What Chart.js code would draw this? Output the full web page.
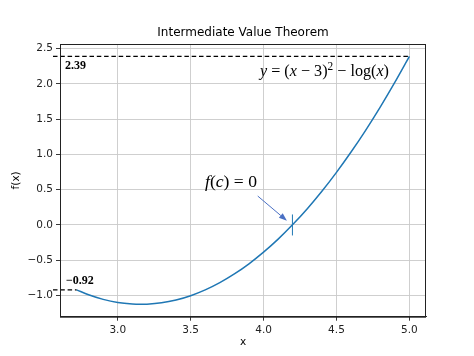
<!DOCTYPE html>
<html>
<head>
<meta charset="utf-8">
<script src="https://cdn.jsdelivr.net/npm/chart.js@4"></script>
<style>
html,body{margin:0;padding:0;background:#fff;}
canvas{display:block;}
</style>
</head>
<body>
<canvas id="c" width="474" height="356"></canvas>
<script>
// ---- data ----
const xVals = [2.718, 2.8, 2.9, 3.0, 3.1, 3.15, 3.2, 3.3, 3.4, 3.5, 3.6, 3.7, 3.8, 3.9, 4.0, 4.1, 4.2, 4.3, 4.4, 4.5, 4.6, 4.7, 4.8, 4.9, 5.0];
const fVals = [-0.92, -0.99, -1.055, -1.099, -1.121, -1.125, -1.123, -1.104, -1.064, -1.003, -0.921, -0.818, -0.695, -0.551, -0.386, -0.201, 0.005, 0.231, 0.478, 0.746, 1.034, 1.342, 1.671, 2.021, 2.39];
const xTicks = [3.0, 3.5, 4.0, 4.5, 5.0];
const yTicks = [-1.0, -0.5, 0.0, 0.5, 1.0, 1.5, 2.0, 2.5];
const levelHigh = 2.39;
const levelLow = -0.92;
const levelHighLabel = "2.39";
const levelLowLabel = "\u22120.92";
const xStart = 2.718, xEnd = 5.0;
const dashFrom = 2.556;
const rootX = 4.198, rootY = 0;
const arrowTail = [3.96, 0.41];
const arrowHead = [4.16, 0.06];
const titleText = "Intermediate Value Theorem";
const xLabel = "x", yLabel = "f(x)";

const blue = '#1f77b4';
const fmt = v => (v < 0 ? '\u2212' : '') + Math.abs(v).toFixed(1);

function fontFor(s, size, fam) {
  if (s === 'i') return `italic ${size}px ${fam}`;
  if (s === 'sup') return `${(size * 0.7).toFixed(1)}px ${fam}`;
  return `${size}px ${fam}`;
}
function drawRich(ctx, parts, x, y, targetW, size, fam) {
  let w0 = 0;
  for (const [t, s] of parts) { ctx.font = fontFor(s, size, fam); w0 += ctx.measureText(t).width; }
  ctx.save();
  ctx.translate(x, y);
  ctx.scale(targetW / w0, 1);
  let cx = 0;
  ctx.textBaseline = 'alphabetic';
  ctx.textAlign = 'left';
  for (const [t, s] of parts) {
    ctx.font = fontFor(s, size, fam);
    const dy = s === 'sup' ? -size * 0.38 : 0;
    ctx.fillText(t, cx, dy);
    cx += ctx.measureText(t).width;
  }
  ctx.restore();
}

const annot = {
  id: 'annot',
  afterDraw(chart) {
    const ctx = chart.ctx, xs = chart.scales.x, ys = chart.scales.y, a = chart.chartArea;
    ctx.save();
    // frame
    ctx.strokeStyle = '#222';
    ctx.lineWidth = 1;
    ctx.strokeRect(a.left + 0.5, a.top + 0.5, a.right - a.left - 1, a.bottom - a.top);
    // arrow
    const tx = xs.getPixelForValue(arrowTail[0]), ty = ys.getPixelForValue(arrowTail[1]);
    const hx = xs.getPixelForValue(arrowHead[0]), hy = ys.getPixelForValue(arrowHead[1]);
    const ang = Math.atan2(hy - ty, hx - tx);
    const hl = 8, hw = 3;
    const bx = hx - hl * Math.cos(ang), by = hy - hl * Math.sin(ang);
    ctx.strokeStyle = '#4a70c4';
    ctx.fillStyle = '#4a70c4';
    ctx.lineWidth = 1;
    ctx.beginPath(); ctx.moveTo(tx, ty); ctx.lineTo(bx, by); ctx.stroke();
    ctx.beginPath();
    ctx.moveTo(hx, hy);
    ctx.lineTo(bx + hw * Math.sin(ang), by - hw * Math.cos(ang));
    ctx.lineTo(bx - hw * Math.sin(ang), by + hw * Math.cos(ang));
    ctx.closePath(); ctx.fill();
    // texts
    ctx.fillStyle = '#000';
    const serif = '"Liberation Serif"';
    drawRich(ctx, [['y', 'i'], [' = (', 'n'], ['x', 'i'], [' \u2212 3)', 'n'], ['2', 'sup'], [' \u2212 log(', 'n'], ['x', 'i'], [')', 'n']],
      260, 76, 129, 17, serif);
    drawRich(ctx, [['f', 'i'], ['(', 'n'], ['c', 'i'], [') = 0', 'n']], 205, 187, 52, 17, serif);
    ctx.font = `bold 12px ${serif}`;
    ctx.textAlign = 'left';
    ctx.textBaseline = 'middle';
    ctx.fillText(levelHighLabel, 65, 66);
    ctx.fillText(levelLowLabel, 66, 281);
    // title and axis labels
    ctx.font = '12px "DejaVu Sans"';
    ctx.textAlign = 'center';
    ctx.textBaseline = 'middle';
    ctx.fillText(titleText, (a.left + a.right) / 2, 33);
    ctx.font = '10.5px "DejaVu Sans"';
    ctx.fillText(xLabel, (a.left + a.right) / 2, 342);
    ctx.translate(16, (a.top + a.bottom) / 2);
    ctx.rotate(-Math.PI / 2);
    ctx.fillText(yLabel, 0, 0);
    ctx.restore();
  }
};

new Chart(document.getElementById('c'), {
  type: 'scatter',
  data: {
    datasets: [
      {
        data: xVals.map((x, i) => ({x, y: fVals[i]})),
        showLine: true, borderColor: blue, borderWidth: 1.5, pointRadius: 0,
        cubicInterpolationMode: 'monotone', order: 2
      },
      {
        data: [{x: dashFrom, y: levelHigh}, {x: xEnd, y: levelHigh}],
        showLine: true, borderColor: '#000', borderWidth: 1.3, borderDash: [4.5, 2.8],
        pointRadius: 0, clip: false, order: 1
      },
      {
        data: [{x: dashFrom, y: levelLow}, {x: xStart, y: levelLow}],
        showLine: true, borderColor: '#000', borderWidth: 1.3, borderDash: [4.5, 2.8],
        pointRadius: 0, clip: false, order: 1
      },
      {
        data: [{x: rootX, y: rootY}],
        pointStyle: 'line', rotation: 90, pointRadius: 10.5,
        borderColor: blue, backgroundColor: blue, borderWidth: 1, order: 0
      }
    ]
  },
  options: {
    responsive: false,
    animation: false,
    events: [],
    layout: {padding: {top: 44, right: 48, left: 0, bottom: 0}},
    plugins: {legend: {display: false}, title: {display: false}, tooltip: {enabled: false}},
    scales: {
      x: {
        type: 'linear', min: 2.604, max: 5.114,
        afterBuildTicks: s => { s.ticks = xTicks.map(v => ({value: v})); },
        afterFit: s => { s.height = 39.3; },
        grid: {color: '#c9c9c9', lineWidth: 0.9, tickLength: 4, tickColor: '#222', drawTicks: true},
        border: {display: true, color: '#222', width: 1},
        ticks: {color: '#222', padding: 3, font: {family: 'DejaVu Sans', size: 10.5}, maxRotation: 0,
          callback: v => fmt(v)}
      },
      y: {
        type: 'linear', min: -1.301, max: 2.566,
        afterBuildTicks: s => { s.ticks = yTicks.map(v => ({value: v})); },
        afterFit: s => { s.width = 60; },
        grid: {color: '#c9c9c9', lineWidth: 0.9, tickLength: 4, tickColor: '#222', drawTicks: true},
        border: {display: true, color: '#222', width: 1},
        ticks: {color: '#222', padding: 3, font: {family: 'DejaVu Sans', size: 10.5},
          callback: v => fmt(v)}
      }
    }
  },
  plugins: [annot]
});
</script>
</body>
</html>
